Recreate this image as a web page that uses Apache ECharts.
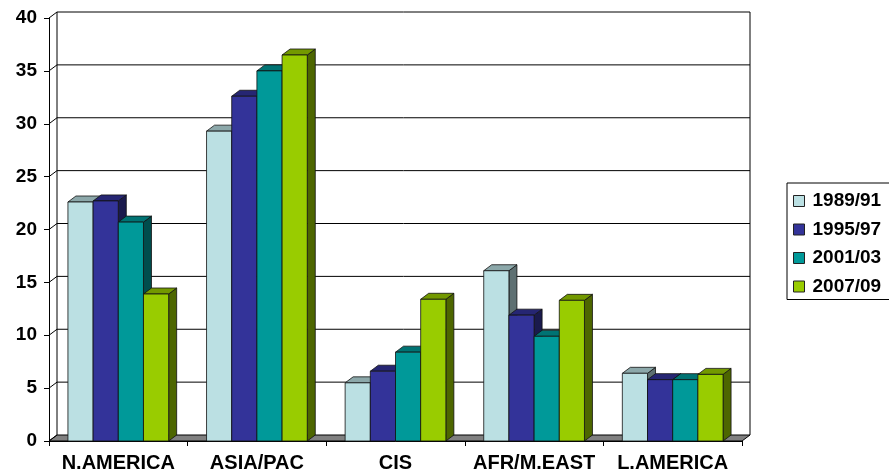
<!DOCTYPE html>
<html>
<head>
<meta charset="utf-8">
<script src="https://cdn.jsdelivr.net/npm/echarts@6/dist/echarts.min.js"></script>
<style>
  html, body { margin: 0; padding: 0; background: #fff; }
  #chart { width: 889px; height: 475px; }
</style>
</head>
<body>
<div id="chart"></div>
<script>
// Regions and periods
const categories = ['N.AMERICA', 'ASIA/PAC', 'CIS', 'AFR/M.EAST', 'L.AMERICA'];
const periods = ['1989/91', '1995/97', '2001/03', '2007/09'];

// Share per region for each period
const v1989 = [22.6, 29.3, 5.5, 16.1, 6.4];
const v1995 = [22.7, 32.6, 6.6, 11.9, 5.8];
const v2001 = [20.7, 35.0, 8.4, 9.9, 5.8];
const v2007 = [13.9, 36.5, 13.4, 13.3, 6.3];

// Value axis ticks
const yTicks = [0, 5, 10, 15, 20, 25, 30, 35, 40];

const seriesValues = [v1989, v1995, v2001, v2007];
const frontColors = ['#BBE0E3', '#333399', '#009999', '#99CC00'];
const topColors   = ['#8CA8AA', '#262673', '#007373', '#739900'];
const sideColors  = ['#5E7072', '#1A1A4D', '#004D4D', '#4D6600'];

const FONT = "'Liberation Sans', Arial, sans-serif";
const DX = 8, DY = 6;          // depth offset of the 3D projection
const BAR_RATIO = 0.1817;      // bar width relative to category band

function wallItem(params, api) {
  const v = api.value(1);
  const band = api.size([1, 0])[0];
  const x0 = api.coord([0, v])[0] - band / 2;
  const x1 = api.coord([categories.length - 1, v])[0] + band / 2;
  const y = api.coord([0, v])[1];
  const y0 = api.coord([0, 0])[1];
  const yTop = api.coord([0, yTicks[yTicks.length - 1]])[1];
  const line = { stroke: '#000', lineWidth: 1, fill: null };
  const children = [];
  if (v === 0) {
    // floor
    children.push({
      type: 'polygon',
      shape: { points: [[x0, y0], [x1, y0], [x1 + DX, y0 - DY], [x0 + DX, y0 - DY]] },
      style: { fill: '#808080', stroke: '#000', lineWidth: 1 }
    });
  } else {
    // back wall grid line
    children.push({
      type: 'line',
      shape: { x1: x0 + DX, y1: y - DY, x2: x1 + DX, y2: y - DY },
      style: line
    });
  }
  // side wall grid line
  children.push({
    type: 'line',
    shape: { x1: x0, y1: y, x2: x0 + DX, y2: y - DY },
    style: line
  });
  if (v === yTicks[yTicks.length - 1]) {
    // back wall left and right edges
    children.push({
      type: 'line',
      shape: { x1: x0 + DX, y1: yTop - DY, x2: x0 + DX, y2: y0 - DY },
      style: line
    });
    children.push({
      type: 'line',
      shape: { x1: x1 + DX, y1: yTop - DY, x2: x1 + DX, y2: y0 - DY },
      style: line
    });
  }
  return { type: 'group', children: children };
}

function barRenderer(si) {
  return function (params, api) {
    const ci = api.value(0);
    const v = api.value(1);
    const band = api.size([1, 0])[0];
    const bw = band * BAR_RATIO;
    const cx = api.coord([ci, 0])[0];
    const left = cx - 2 * bw + si * bw;
    const right = left + bw;
    const yv = api.coord([ci, v])[1];
    const y0 = api.coord([ci, 0])[1];
    const edge = { stroke: '#111', lineWidth: 0.8 };
    return {
      type: 'group',
      children: [
        {
          type: 'polygon',
          shape: { points: [[right, yv], [right + DX, yv - DY], [right + DX, y0 - DY], [right, y0]] },
          style: Object.assign({ fill: sideColors[si] }, edge)
        },
        {
          type: 'polygon',
          shape: { points: [[left, yv], [left + DX, yv - DY], [right + DX, yv - DY], [right, yv]] },
          style: Object.assign({ fill: topColors[si] }, edge)
        },
        {
          type: 'rect',
          shape: { x: left, y: yv, width: bw, height: y0 - yv },
          style: Object.assign({ fill: frontColors[si] }, edge)
        }
      ]
    };
  };
}

const series = [{
  name: 'walls',
  type: 'custom',
  renderItem: wallItem,
  data: yTicks.map(t => [0, t]),
  clip: false,
  silent: true,
  z: 1
}];
periods.forEach((p, si) => {
  series.push({
    name: p,
    type: 'custom',
    renderItem: barRenderer(si),
    data: seriesValues[si].map((v, i) => [i, v]),
    itemStyle: { color: frontColors[si] },
    clip: false,
    z: 2
  });
});

const chart = echarts.init(document.getElementById('chart'), null, { renderer: 'canvas' });
chart.setOption({
  animation: false,
  backgroundColor: '#fff',
  grid: { left: 49, right: 147, top: 18, bottom: 34 },
  legend: {
    data: periods,
    orient: 'vertical',
    left: 787,
    top: 183,
    icon: 'rect',
    itemWidth: 11,
    itemHeight: 11,
    itemGap: 8.5,
    padding: [8, 20, 3, 6],
    backgroundColor: '#fff',
    borderColor: '#000',
    borderWidth: 1,
    itemStyle: { borderColor: '#222', borderWidth: 1 },
    textStyle: { fontFamily: FONT, fontWeight: 'bold', fontSize: 19, color: '#000', lineHeight: 20, padding: [0, 0, 0, 3] }
  },
  xAxis: {
    type: 'category',
    data: categories,
    boundaryGap: true,
    axisLine: { show: true, lineStyle: { color: '#000', width: 1 } },
    axisTick: { show: true, length: 5, alignWithLabel: false, interval: 0, lineStyle: { color: '#000' } },
    axisLabel: { interval: 0, fontFamily: FONT, fontWeight: 'bold', fontSize: 20, color: '#000', margin: 12 },
    splitLine: { show: false }
  },
  yAxis: {
    type: 'value',
    min: 0,
    max: 40,
    interval: 5,
    axisLine: { show: true, lineStyle: { color: '#000', width: 1 } },
    axisTick: { show: true, length: 5, lineStyle: { color: '#000' } },
    axisLabel: { fontFamily: FONT, fontWeight: 'bold', fontSize: 19, color: '#000', margin: 12 },
    splitLine: { show: false }
  },
  series: series
});
</script>
</body>
</html>
